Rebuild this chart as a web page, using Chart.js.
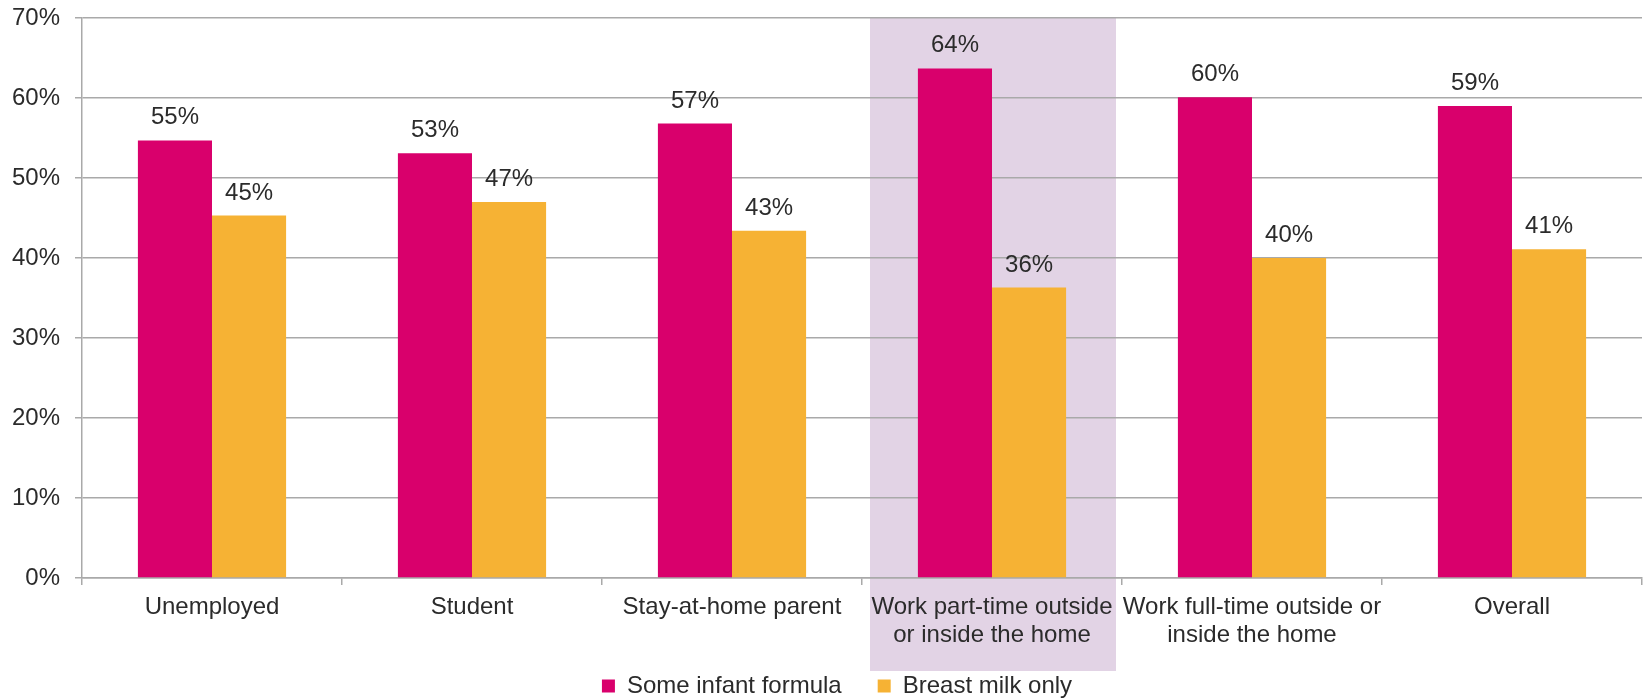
<!DOCTYPE html>
<html>
<head>
<meta charset="utf-8">
<script src="https://cdn.jsdelivr.net/npm/chart.js@4/dist/chart.umd.min.js"></script>
<style>
  html, body { margin: 0; padding: 0; background: #fff; }
  #wrap { width: 1646px; height: 699px; }
</style>
</head>
<body>
<div id="wrap"><canvas id="chart" width="1646" height="699"></canvas></div>
<script>
const categories = [
    'Unemployed',
    'Student',
    'Stay-at-home parent',
    ['Work part-time outside', 'or inside the home'],
    ['Work full-time outside or', 'inside the home'],
    'Overall'
];
const formulaValues = [54.7, 53.1, 56.8, 63.7, 60.1, 59.0];
const breastValues = [45.3, 47.0, 43.4, 36.3, 40.0, 41.1];
const yTicks = [0, 10, 20, 30, 40, 50, 60, 70];
const highlightIndex = 3; // shaded column

const FONT = "'Liberation Sans', Arial, sans-serif";
const TEXT = '#2b2b2b';
const GRID = '#a9a9a9';

// purple band behind the highlighted category
const highlightPlugin = {
    id: 'highlight',
    afterLayout(chart) {
        // legend sits a little right of centre in the original
        chart.legend.left += 16;
        chart.legend.right += 16;
    },
    beforeDraw(chart) {
        const x = chart.scales.x;
        const area = chart.chartArea;
        const step = x.width / categories.length;
        const cx = x.getPixelForValue(highlightIndex);
        const ctx = chart.ctx;
        ctx.save();
        ctx.fillStyle = '#e2d3e5';
        ctx.fillRect(cx - step / 2 + 8, area.top, step - 14, area.bottom - area.top + 93);
        ctx.restore();
    }
};

// percentage labels over each bar
const valueLabels = {
    id: 'valueLabels',
    afterDatasetsDraw(chart) {
        const ctx = chart.ctx;
        ctx.save();
        ctx.font = '24px ' + FONT;
        ctx.fillStyle = TEXT;
        ctx.textAlign = 'center';
        ctx.textBaseline = 'alphabetic';
        chart.data.datasets.forEach((ds, di) => {
            chart.getDatasetMeta(di).data.forEach((bar, i) => {
                ctx.fillText(Math.round(ds.data[i]) + '%', bar.x, bar.y - 16);
            });
        });
        ctx.restore();
    }
};

const ctx = document.getElementById('chart').getContext('2d');
const chart = new Chart(ctx, {
    type: 'bar',
    data: {
        labels: categories,
        datasets: [{
            label: 'Some infant formula',
            data: formulaValues,
            backgroundColor: '#d9006c',
            categoryPercentage: 0.57,
            barPercentage: 1
        }, {
            label: 'Breast milk only',
            data: breastValues,
            backgroundColor: '#f6b234',
            categoryPercentage: 0.57,
            barPercentage: 1
        }]
    },
    options: {
        responsive: false,
        animation: false,
        layout: { padding: { top: 18, right: 4, left: 0, bottom: -9 } },
        plugins: {
            tooltip: { enabled: false },
            legend: {
                position: 'bottom',
                labels: {
                    font: { family: FONT, size: 24 },
                    color: TEXT,
                    boxWidth: 13,
                    boxHeight: 13,
                    padding: 36
                }
            }
        },
        scales: {
            x: {
                grid: {
                    offset: true,
                    drawOnChartArea: false,
                    drawTicks: true,
                    tickLength: 7,
                    color: GRID,
                    lineWidth: 1.5
                },
                border: { color: GRID, width: 1.5 },
                ticks: {
                    font: { family: FONT, size: 24, lineHeight: 1.18 },
                    color: TEXT,
                    maxRotation: 0,
                    autoSkip: false,
                    padding: 8
                },
                afterFit(scale) {
                    scale.height = 60;
                    scale._computeLabelArea = () => undefined; // don't clip the two-line labels
                }
            },
            y: {
                min: 0,
                max: 70,
                afterBuildTicks(scale) { scale.ticks = yTicks.map(v => ({ value: v })); },
                grid: {
                    color: GRID,
                    lineWidth: 1.5,
                    tickLength: 7
                },
                border: { color: GRID, width: 1.5 },
                ticks: {
                    font: { family: FONT, size: 24 },
                    color: TEXT,
                    padding: 15,
                    callback: v => v + '%'
                },
                afterFit(scale) {
                    scale.width = 82;
                    scale.paddingTop = 0;
                    scale.paddingBottom = 0;
                }
            }
        }
    },
    plugins: [highlightPlugin, valueLabels]
});
</script>
</body>
</html>
